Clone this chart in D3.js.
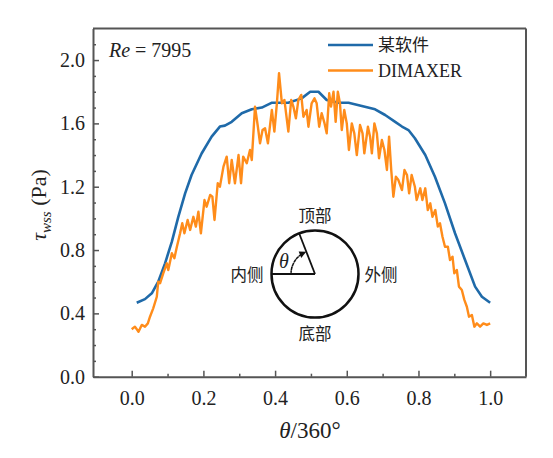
<!DOCTYPE html>
<html>
<head>
<meta charset="utf-8">
<script src="https://d3js.org/d3.v7.min.js"></script>
<style>
  body { margin: 0; background: #fff; }
  svg text { font-family: "Liberation Serif", "DejaVu Serif", serif; fill: #222; }
  .cjk { font-family: "Noto Sans CJK SC", sans-serif !important; }
  .axis path, .axis line { stroke: #555; }
</style>
</head>
<body>
<svg id="chart" width="553" height="458"></svg>
<script>
// blue curve (某软件)
var blueTheta = [0.014, 0.037, 0.056, 0.074, 0.093, 0.112, 0.13, 0.149, 0.167, 0.195, 0.223, 0.246, 0.26, 0.279, 0.307, 0.335, 0.363, 0.39, 0.437, 0.474, 0.498, 0.521, 0.544, 0.577, 0.605, 0.642, 0.679, 0.707, 0.735, 0.754, 0.772, 0.79, 0.819, 0.846, 0.874, 0.902, 0.93, 0.958, 0.977, 1.0];
var blueTau = [0.467, 0.49, 0.527, 0.60, 0.716, 0.853, 1.01, 1.158, 1.274, 1.41, 1.516, 1.58, 1.586, 1.61, 1.664, 1.689, 1.70, 1.73, 1.73, 1.758, 1.80, 1.80, 1.748, 1.73, 1.73, 1.71, 1.689, 1.653, 1.61, 1.58, 1.558, 1.506, 1.40, 1.263, 1.095, 0.906, 0.737, 0.569, 0.505, 0.467];

// orange curve (DIMAXER)
var orangeTheta = [0.0, 0.009, 0.019, 0.028, 0.037, 0.045, 0.051, 0.06, 0.07, 0.074, 0.079, 0.088, 0.098, 0.102, 0.112, 0.119, 0.126, 0.135, 0.141, 0.147, 0.156, 0.163, 0.172, 0.179, 0.186, 0.193, 0.203, 0.209, 0.219, 0.225, 0.231, 0.24, 0.246, 0.256, 0.265, 0.272, 0.279, 0.288, 0.298, 0.305, 0.311, 0.321, 0.33, 0.335, 0.344, 0.352, 0.358, 0.365, 0.372, 0.38, 0.391, 0.398, 0.405, 0.411, 0.419, 0.426, 0.437, 0.445, 0.451, 0.458, 0.465, 0.473, 0.479, 0.488, 0.493, 0.502, 0.51, 0.516, 0.523, 0.53, 0.538, 0.544, 0.551, 0.556, 0.563, 0.569, 0.575, 0.581, 0.586, 0.593, 0.60, 0.606, 0.614, 0.621, 0.628, 0.637, 0.644, 0.649, 0.659, 0.665, 0.67, 0.677, 0.684, 0.69, 0.698, 0.705, 0.712, 0.718, 0.724, 0.73, 0.737, 0.744, 0.754, 0.761, 0.768, 0.774, 0.781, 0.79, 0.795, 0.805, 0.811, 0.819, 0.826, 0.833, 0.839, 0.847, 0.854, 0.86, 0.867, 0.874, 0.882, 0.888, 0.895, 0.90, 0.907, 0.913, 0.921, 0.928, 0.935, 0.941, 0.949, 0.956, 0.963, 0.972, 0.981, 0.991, 1.0];
var orangeTau = [0.30, 0.316, 0.284, 0.327, 0.316, 0.337, 0.379, 0.432, 0.505, 0.60, 0.59, 0.653, 0.716, 0.674, 0.78, 0.748, 0.821, 0.906, 0.969, 0.906, 0.99, 0.927, 1.01, 0.948, 1.042, 0.906, 1.116, 1.074, 1.148, 1.137, 0.99, 1.222, 1.20, 1.327, 1.39, 1.222, 1.369, 1.222, 1.40, 1.222, 1.39, 1.348, 1.432, 1.369, 1.706, 1.579, 1.474, 1.558, 1.569, 1.474, 1.685, 1.548, 1.727, 1.917, 1.727, 1.748, 1.548, 1.748, 1.706, 1.632, 1.748, 1.78, 1.642, 1.685, 1.579, 1.727, 1.758, 1.727, 1.579, 1.664, 1.60, 1.537, 1.79, 1.706, 1.80, 1.61, 1.80, 1.727, 1.558, 1.685, 1.60, 1.432, 1.60, 1.537, 1.40, 1.59, 1.537, 1.411, 1.579, 1.516, 1.411, 1.60, 1.537, 1.38, 1.495, 1.432, 1.306, 1.516, 1.306, 1.137, 1.263, 1.242, 1.179, 1.306, 1.274, 1.158, 1.274, 1.20, 1.116, 1.19, 1.116, 1.19, 1.053, 1.095, 1.01, 1.053, 0.948, 0.969, 0.884, 0.821, 0.821, 0.737, 0.758, 0.653, 0.674, 0.569, 0.548, 0.485, 0.442, 0.379, 0.39, 0.316, 0.337, 0.316, 0.337, 0.327, 0.337];

var xTicks = [0.0, 0.2, 0.4, 0.6, 0.8, 1.0];
var xMinor = [0.1, 0.3, 0.5, 0.7, 0.9];
var yTicks = [0.0, 0.4, 0.8, 1.2, 1.6, 2.0];
var yMinor = [0.1, 0.2, 0.3, 0.5, 0.6, 0.7, 0.9, 1.0, 1.1, 1.3, 1.4, 1.5, 1.7, 1.8, 1.9, 2.1];
var seriesNames = ["某软件", "DIMAXER"];
var colors = ["#1f6aa9", "#ff8c1a"];

// plot box (window.top is reserved, so no "top" here)
var plotL = 93, plotR = 526, plotT = 28.4, plotB = 376.7;
var svg = d3.select("#chart");

var x = d3.scaleLinear().domain([-0.108, 1.1]).range([plotL, plotR]);
var y = d3.scaleLinear().domain([0, 2.2]).range([plotB, plotT]);

// minor ticks
svg.append("g").attr("class", "axis")
    .attr("transform", "translate(0," + plotB + ")")
    .call(d3.axisBottom(x).tickValues(xMinor).tickSize(-3).tickFormat(""))
    .call(g => g.select(".domain").remove())
    .selectAll("line").attr("stroke-width", 1.5);
svg.append("g").attr("class", "axis")
    .attr("transform", "translate(" + plotL + ",0)")
    .call(d3.axisLeft(y).tickValues(yMinor).tickSize(-3).tickFormat(""))
    .call(g => g.select(".domain").remove())
    .selectAll("line").attr("stroke-width", 1.5);

// major ticks
var xAxis = svg.append("g").attr("class", "axis")
    .attr("transform", "translate(0," + plotB + ")")
    .call(d3.axisBottom(x).tickValues(xTicks).tickSize(-6).tickSizeOuter(0).tickPadding(14).tickFormat(d3.format(".1f")));
xAxis.select(".domain").attr("stroke-width", 2);
xAxis.selectAll("line").attr("stroke-width", 1.5);
xAxis.selectAll("text").style("font-size", "20px").attr("fill", "#1a1a1a");

var yAxis = svg.append("g").attr("class", "axis")
    .attr("transform", "translate(" + plotL + ",0)")
    .call(d3.axisLeft(y).tickValues(yTicks).tickSize(-6).tickSizeOuter(0).tickPadding(8).tickFormat(d3.format(".1f")));
yAxis.select(".domain").attr("stroke-width", 2);
yAxis.selectAll("line").attr("stroke-width", 1.5);
yAxis.selectAll("text").style("font-size", "20px").attr("fill", "#1a1a1a");

// top and right frame
svg.append("line").attr("x1", plotL).attr("x2", plotR).attr("y1", plotT).attr("y2", plotT)
    .attr("stroke", "#555").attr("stroke-width", 2);
svg.append("line").attr("x1", plotR).attr("x2", plotR).attr("y1", plotT).attr("y2", plotB)
    .attr("stroke", "#555").attr("stroke-width", 2);

// lines
var line = d3.line().x(d => x(d[0])).y(d => y(d[1]));
var blueData = blueTheta.map((t, i) => [t, blueTau[i]]);
var orangeData = orangeTheta.map((t, i) => [t, orangeTau[i]]);

svg.append("path").attr("d", line(blueData))
    .attr("fill", "none").attr("stroke", colors[0]).attr("stroke-width", 2.6)
    .attr("stroke-linejoin", "round");
svg.append("path").attr("d", line(orangeData))
    .attr("fill", "none").attr("stroke", colors[1]).attr("stroke-width", 2.4)
    .attr("stroke-linejoin", "round");

// legend
seriesNames.forEach(function(name, i) {
    var ly = 45 + i * 25.5;
    svg.append("line").attr("x1", 328).attr("x2", 373).attr("y1", ly).attr("y2", ly)
        .attr("stroke", colors[i]).attr("stroke-width", 2.6);
    svg.append("text").attr("x", 378).attr("y", ly + 6)
        .attr("class", i == 0 ? "cjk" : null)
        .style("font-size", i == 0 ? "17px" : "18px")
        .text(name);
});

// Re label
var re = svg.append("text").attr("x", 109).attr("y", 57).style("font-size", "20px");
re.append("tspan").style("font-style", "italic").text("Re");
re.append("tspan").text(" = 7995");

// axis titles
var xt = svg.append("text").attr("x", 310).attr("y", 438).attr("text-anchor", "middle").style("font-size", "23px");
xt.append("tspan").style("font-style", "italic").text("θ");
xt.append("tspan").text("/360°");

var yt = svg.append("text").attr("transform", "translate(46,205) rotate(-90)")
    .attr("text-anchor", "middle").style("font-size", "22px");
yt.append("tspan").style("font-style", "italic").text("τ");
yt.append("tspan").style("font-style", "italic").style("font-size", "15px").attr("dy", 5).text("wss");
yt.append("tspan").attr("dy", -5).text(" (Pa)");

// inset: pipe cross-section
var cx = 315, cy = 274, r = 43.5;
var inset = svg.append("g");
inset.append("circle").attr("cx", cx).attr("cy", cy).attr("r", r)
    .attr("fill", "none").attr("stroke", "#111").attr("stroke-width", 2.5);
inset.append("line").attr("x1", cx - r).attr("y1", cy).attr("x2", cx).attr("y2", cy)
    .attr("stroke", "#111").attr("stroke-width", 1.8);
var ang = 68.7 * Math.PI / 180; // angle from inner side
inset.append("line").attr("x1", cx).attr("y1", cy)
    .attr("x2", cx - r * Math.cos(ang)).attr("y2", cy - r * Math.sin(ang))
    .attr("stroke", "#111").attr("stroke-width", 1.8);
var ar = 24;
inset.append("path")
    .attr("transform", "translate(" + cx + "," + cy + ")")
    .attr("d", d3.arc()({ innerRadius: ar, outerRadius: ar, startAngle: -Math.PI / 2, endAngle: -Math.PI / 2 + ang - 0.12 }))
    .attr("fill", "none").attr("stroke", "#111").attr("stroke-width", 1.5).attr("stroke-dasharray", "2,2");
var tipA = -Math.PI / 2 + ang;
var tx = cx + ar * Math.sin(tipA), ty = cy - ar * Math.cos(tipA);
inset.append("path")
    .attr("transform", "translate(" + tx + "," + ty + ") rotate(" + (tipA * 180 / Math.PI) + ")")
    .attr("d", "M0,0 L-7,-3 L-7,4 Z").attr("fill", "#111");
inset.append("text").attr("x", 284).attr("y", 268).attr("text-anchor", "middle")
    .style("font-size", "20px").style("font-style", "italic").text("θ");

var insetLabels = [["顶部", 315, 222], ["底部", 315, 340], ["内侧", 247, 281], ["外侧", 381, 281]];
insetLabels.forEach(function(d) {
    svg.append("text").attr("class", "cjk").attr("x", d[1]).attr("y", d[2])
        .attr("text-anchor", "middle").style("font-size", "16.5px").text(d[0]);
});
</script>
</body>
</html>
